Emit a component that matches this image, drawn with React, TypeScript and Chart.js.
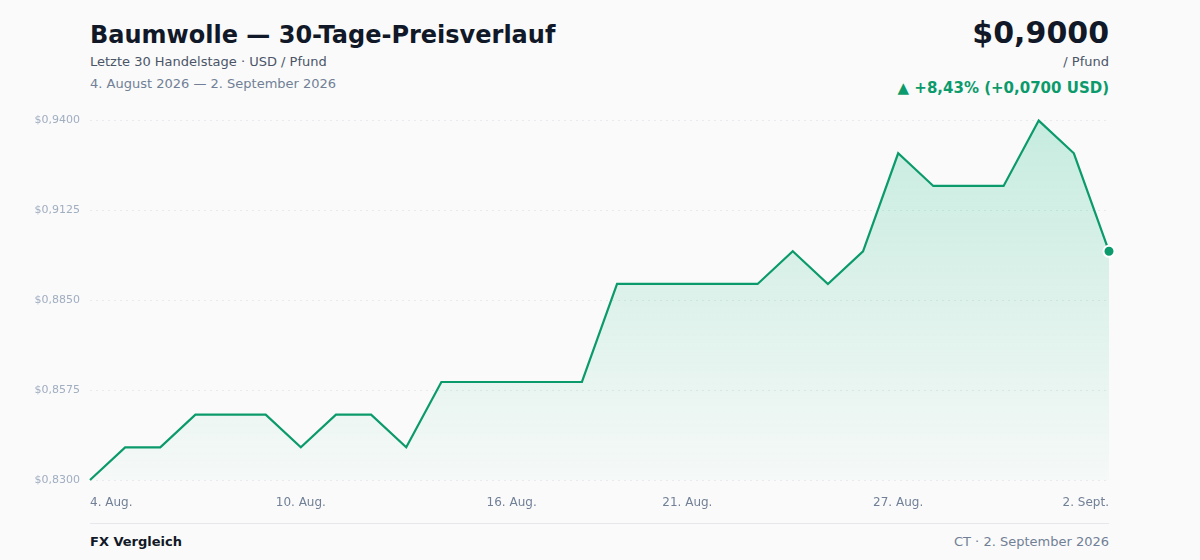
import React, { useEffect, useRef } from "react";
import { Chart, registerables } from "chart.js";

Chart.register(...registerables);

const dates: string[] = [
  "4. Aug.", "5. Aug.", "6. Aug.", "7. Aug.", "8. Aug.", "9. Aug.", "10. Aug.",
  "11. Aug.", "12. Aug.", "13. Aug.", "14. Aug.", "15. Aug.", "16. Aug.", "17. Aug.",
  "18. Aug.", "19. Aug.", "20. Aug.", "21. Aug.", "22. Aug.", "23. Aug.", "24. Aug.",
  "25. Aug.", "26. Aug.", "27. Aug.", "28. Aug.", "29. Aug.", "30. Aug.", "31. Aug.",
  "1. Sept.", "2. Sept.",
];

const prices: number[] = [
  0.83, 0.84, 0.84, 0.85, 0.85, 0.85, 0.84, 0.85, 0.85, 0.84,
  0.86, 0.86, 0.86, 0.86, 0.86, 0.89, 0.89, 0.89, 0.89, 0.89,
  0.9, 0.89, 0.9, 0.93, 0.92, 0.92, 0.92, 0.94, 0.93, 0.9,
];

const shownTickIndices: number[] = [0, 6, 12, 17, 23, 29];
const yTicks: number[] = [0.83, 0.8575, 0.885, 0.9125, 0.94];

const GREEN = "#0b9a6b";
const FONT = "'DejaVu Sans', sans-serif";

function fmtUsd(v: number) {
  return "$" + v.toFixed(4).replace(".", ",");
}

function PriceChart() {
  const ref = useRef<HTMLCanvasElement | null>(null);
  useEffect(() => {
    const canvas = ref.current;
    if (!canvas) return;
    const lastIdx = prices.length - 1;
    const chart = new Chart(canvas, {
      type: "line",
      data: {
        labels: dates,
        datasets: [
          {
            data: prices,
            borderColor: GREEN,
            borderWidth: 2.2,
            tension: 0,
            fill: "start",
            backgroundColor: (ctx: any) => {
              const c = ctx.chart;
              const area = c.chartArea;
              if (!area) return "rgba(16,185,129,0.1)";
              const g = c.ctx.createLinearGradient(0, area.top, 0, area.bottom);
              g.addColorStop(0, "rgba(16,185,129,0.22)");
              g.addColorStop(1, "rgba(16,185,129,0.02)");
              return g;
            },
            pointRadius: prices.map((_, i) => (i === lastIdx ? 5.5 : 0)),
            pointHoverRadius: 0,
            pointBackgroundColor: GREEN,
            pointBorderColor: "#ffffff",
            pointBorderWidth: 2,
            clip: false as any,
          },
        ],
      },
      options: {
        animation: false,
        responsive: false,
        maintainAspectRatio: false,
        layout: { autoPadding: false, padding: { top: 10, right: 91, bottom: 0, left: 0 } },
        plugins: { legend: { display: false }, tooltip: { enabled: false } },
        scales: {
          x: {
            grid: { display: false, drawTicks: false },
            border: { display: false },
            ticks: {
              autoSkip: false,
              maxRotation: 0,
              align: "inner",
              padding: 16,
              color: "#718096",
              font: { family: FONT, size: 12 },
              callback: (_v: any, i: number) =>
                shownTickIndices.includes(i) ? dates[i] : "",
            },
            afterFit: (s: any) => {
              s.height = 40;
            },
          },
          y: {
            min: 0.83,
            max: 0.94,
            grid: {
              color: "#e8eaee",
              drawTicks: false,
              lineWidth: 1,
            },
            border: { display: false, dash: [2, 4] },
            afterBuildTicks: (s: any) => {
              s.ticks = yTicks.map((v) => ({ value: v }));
            },
            ticks: {
              padding: 10,
              color: "#a0aec0",
              font: { family: FONT, size: 11 },
              callback: (v: any) => fmtUsd(Number(v)),
            },
            afterFit: (s: any) => {
              s.width = 90;
            },
          },
        },
      } as any,
    });
    return () => chart.destroy();
  }, []);
  return (
    <canvas
      ref={ref}
      width={1200}
      height={416}
      style={{ position: "absolute", left: 0, top: 104, width: 1200, height: 416 }}
    />
  );
}

export default function App() {
  const first = prices[0];
  const last = prices[prices.length - 1];
  const diff = last - first;
  const pct = (diff / first) * 100;
  return (
    <div
      style={{
        position: "fixed",
        left: 0,
        top: 0,
        width: 1200,
        height: 560,
        background: "#fafafa",
        fontFamily: FONT,
        overflow: "hidden",
      }}
    >
      <div style={{ position: "absolute", left: 90, top: 19, fontSize: 24, lineHeight: "32px", fontWeight: 700, color: "#111827" }}>
        Baumwolle — 30-Tage-Preisverlauf
      </div>
      <div style={{ position: "absolute", left: 90, top: 53, fontSize: 13, lineHeight: "18px", color: "#4a5568" }}>
        Letzte 30 Handelstage · USD / Pfund
      </div>
      <div style={{ position: "absolute", left: 90, top: 75, fontSize: 13, lineHeight: "18px", color: "#718096" }}>
        4. August 2026 — 2. September 2026
      </div>
      <div style={{ position: "absolute", right: 91, top: 14, fontSize: 30, lineHeight: "38px", fontWeight: 700, color: "#111827", textAlign: "right" }}>
        {fmtUsd(last)}
      </div>
      <div style={{ position: "absolute", right: 91, top: 53, fontSize: 13, lineHeight: "18px", color: "#4a5568", textAlign: "right" }}>
        / Pfund
      </div>
      <div style={{ position: "absolute", right: 91, top: 78, fontSize: 15, lineHeight: "20px", fontWeight: 700, color: GREEN, textAlign: "right" }}>
        ▲ +{pct.toFixed(2).replace(".", ",")}% (+{diff.toFixed(4).replace(".", ",")} USD)
      </div>
      <PriceChart />
      <div style={{ position: "absolute", left: 90, top: 523, width: 1019, height: 1, background: "#e5e7eb" }} />
      <div style={{ position: "absolute", left: 90, top: 533, fontSize: 13, lineHeight: "18px", fontWeight: 700, color: "#111827" }}>
        FX Vergleich
      </div>
      <div style={{ position: "absolute", right: 91, top: 533, fontSize: 13, lineHeight: "18px", color: "#718096", textAlign: "right" }}>
        CT · 2. September 2026
      </div>
    </div>
  );
}
